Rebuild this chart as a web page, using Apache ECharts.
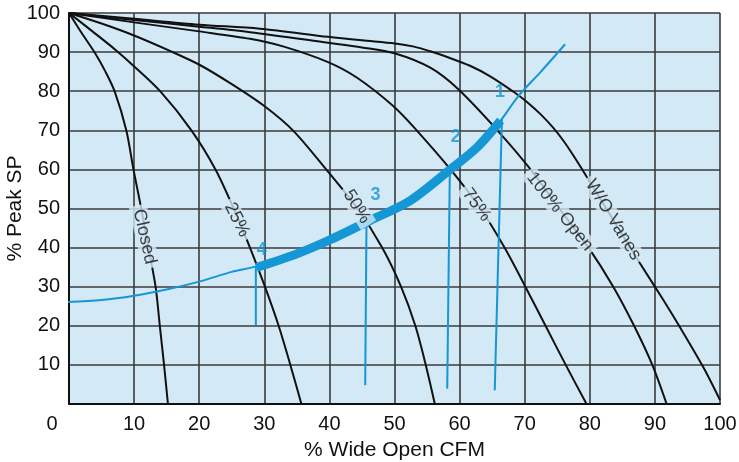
<!DOCTYPE html>
<html><head><meta charset="utf-8">
<script src="https://cdn.jsdelivr.net/npm/echarts@6/dist/echarts.min.js"></script>
<style>html,body{margin:0;padding:0;background:#fff}#c{width:739px;height:462px}</style>
</head><body><div id="c"></div>
<script>
// ---- data (x = % Wide Open CFM, y = % Peak SP) ----
const xTitle = '% Wide Open CFM';
const yTitle = '% Peak SP';
const curveNames = ['Closed', '25%', '50%', '75%', '100% Open', 'W/O Vanes'];
const closedCurve = [[0,100],[1.9,95],[3.9,90],[5.6,85],[7.0,80],[8.8,70],[9.9,60],[11.1,50],[12.2,40],[13.3,30],[13.95,20],[14.6,10],[15.2,0]];
const vane25Curve = [[0,100],[3.6,95.3],[7.2,90.5],[9.85,86.6],[14,80],[18.8,70],[22.5,60],[25.3,50],[27.8,40],[30.1,30],[32.2,20],[34.0,10],[35.7,0]];
const vane50Curve = [[0,100],[5,97.3],[9.9,94.3],[15.5,90.3],[20.1,86.7],[25,81.8],[30,76.2],[34.5,69.8],[39.5,60],[44.3,50],[48.1,40],[51,30],[53.2,20],[54.8,10],[56.2,0]];
const vane75Curve = [[0,100],[10,97.6],[20,95.3],[27.8,93.4],[33,91.4],[39.7,87.5],[44.2,83.5],[49.8,76.2],[53.4,70],[58.6,60],[63.2,50],[66.9,40],[70.1,30],[73.2,20],[76.3,10],[79.5,0]];
const openCurve = [[0,100],[10,98.2],[20,96.5],[27.8,95.1],[39.8,92.4],[45,91.2],[50,89.7],[55.5,86],[59.8,80.5],[65.8,70],[70.9,60],[75.3,50],[79.8,40],[83.6,30],[86.8,20],[89.6,10],[91.8,0]];
const noVaneCurve = [[0,100],[10,98.5],[20,97],[29.3,96],[39.8,93.9],[45,93],[50.1,92.2],[53,91.4],[55.5,90.2],[58,88.8],[61.6,86.5],[64.7,83.8],[68.5,79.6],[70.3,77.3],[72.5,74],[74.4,70.6],[76,67.2],[77.5,63.5],[79.5,58.2],[83.6,47.1],[87.7,36],[91.3,26.6],[93.9,19.5],[97.4,9.5],[100,1]];
const curveLabelAt = [[11.6,42.8],[25.8,47.1],[44.2,50.5],[62.6,50.9],[75.4,49.2],[83.6,47.1]];
const curveLabelAngle = [-77.5,-63.4,-57.6,-53.9,-51.4,-58.4];

const systemCurve = [[-1,26],[5,26.6],[10,27.7],[15,29.3],[20,31.3],[25,33.8],[28.8,35.2],[35,38.4],[40.1,42],[46.2,46.9],[52.4,52],[58.5,59.9],[62.6,65.5],[66.3,72.5],[69,78.7],[72.5,85],[76.2,92]];
const operatingBand = [[28.8,34.9],[35,38.4],[40.1,42],[46.2,46.9],[52.4,52],[58.5,59.9],[62.6,65.5],[66.3,72.5]];
const pointNames = ['1', '2', '3', '4'];
const pointDrops = [[[66.5,73],[65.4,3.5]], [[58.5,60],[58.1,3.9]], [[45.7,47],[45.5,4.8]], [[28.7,35.2],[28.7,20.2]]];
const pointLabelAt = [[66.2,79.7],[59.4,68.2],[47.1,53.5],[29.6,39.4]];

// ---- style ----
const FONT = '"Liberation Sans", Arial, Helvetica, sans-serif';
const BG = '#d3e9f6';
const BLUE = '#1597d5';
const INK = '#111111';
const GRIDC = '#3a3a3a';

const curves = [closedCurve, vane25Curve, vane50Curve, vane75Curve, openCurve, noVaneCurve];
const series = [];
curves.forEach((c, i) => series.push({
  name: curveNames[i], type: 'line', data: c, smooth: 0.3, symbol: 'none', z: 3,
  lineStyle: { color: INK, width: 2 }
}));
series.push({ type: 'line', data: systemCurve, smooth: 0.3, symbol: 'none', clip: false, z: 5,
  lineStyle: { color: BLUE, width: 2 } });
series.push({ type: 'line', data: operatingBand, smooth: 0.3, symbol: 'none', z: 5,
  lineStyle: { color: BLUE, width: 9, cap: 'butt' } });
pointDrops.forEach(d => series.push({ type: 'line', data: d, symbol: 'none', z: 5,
  lineStyle: { color: BLUE, width: 2 } }));
series.push({
  type: 'scatter', symbolSize: 0, z: 8,
  data: curveNames.map((n, i) => ({ value: curveLabelAt[i], name: n,
    label: { rotate: curveLabelAngle[i] } })),
  label: { show: true, position: 'inside', formatter: p => p.name, fontFamily: FONT, fontSize: 18,
    color: INK, backgroundColor: BG, padding: [0, 4, 0, 4] }
});
series.push({
  type: 'scatter', symbolSize: 0, z: 9,
  data: pointNames.map((n, i) => ({ value: pointLabelAt[i], name: n })),
  label: { show: true, position: 'inside', formatter: p => p.name, fontFamily: FONT, fontSize: 18,
    fontWeight: 'bold', color: BLUE }
});

const chart = echarts.init(document.getElementById('c'), null, { renderer: 'canvas' });
chart.setOption({
  animation: false,
  backgroundColor: '#ffffff',
  grid: { left: 69, right: 19, top: 13, bottom: 58, show: true, backgroundColor: BG, borderWidth: 0,
    containLabel: false, outerBoundsMode: 'none' },
  xAxis: {
    type: 'value', min: 0, max: 100, interval: 10,
    name: xTitle, nameLocation: 'middle', nameGap: 36, nameMoveOverlap: false,
    nameTextStyle: { fontFamily: FONT, fontSize: 21, color: INK },
    axisLine: { lineStyle: { color: INK, width: 2 } },
    axisTick: { show: false },
    axisLabel: { fontFamily: FONT, fontSize: 20, color: INK, margin: 10,
      formatter: v => v === 0 ? '{z|0}' : String(v),
      rich: { z: { fontFamily: FONT, fontSize: 20, color: INK, padding: [0, 34, 0, 0] } } },
    splitLine: { show: true, lineStyle: { color: GRIDC, width: 1.6 } }
  },
  yAxis: {
    type: 'value', min: 0, max: 100, interval: 10,
    name: yTitle, nameLocation: 'middle', nameGap: 43, nameRotate: 90, nameMoveOverlap: false,
    nameTextStyle: { fontFamily: FONT, fontSize: 21, color: INK },
    axisLine: { lineStyle: { color: INK, width: 2 } },
    axisTick: { show: false },
    axisLabel: { fontFamily: FONT, fontSize: 20, color: INK, margin: 9,
      formatter: v => v === 0 ? '' : String(v) },
    splitLine: { show: true, lineStyle: { color: GRIDC, width: 1.6 } }
  },
  series: series
});
</script>
</body></html>
